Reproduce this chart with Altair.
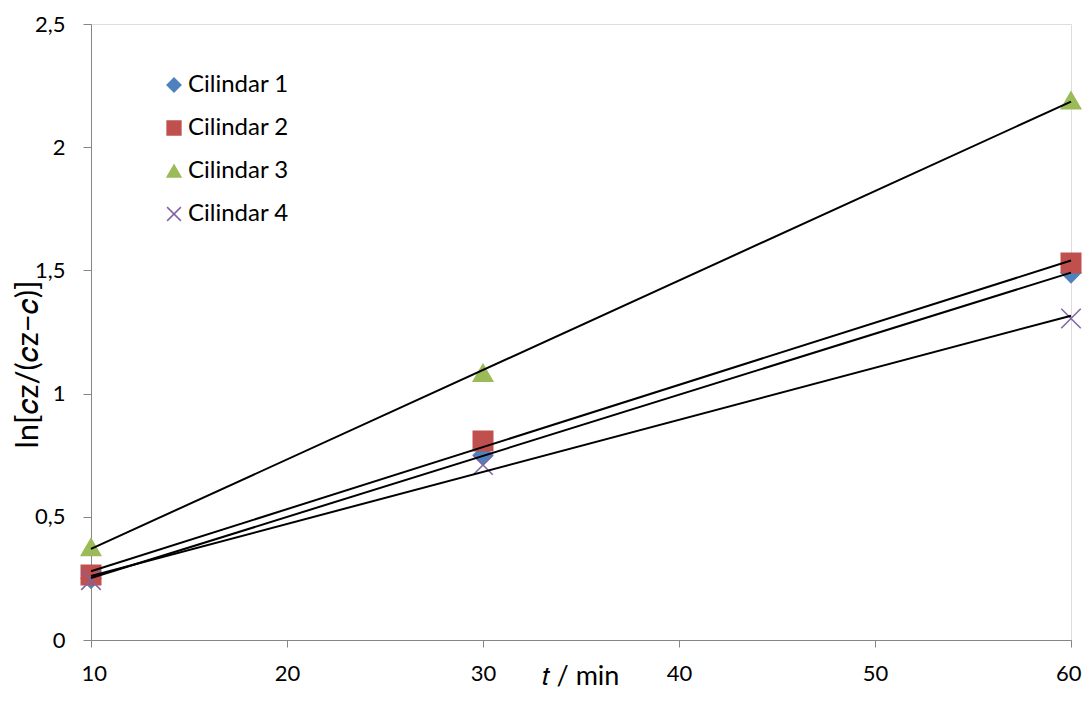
import altair as alt
import pandas as pd

t_values = [10, 30, 60]
cil1 = [0.25, 0.75, 1.49]
cil2 = [0.264, 0.808, 1.53]
cil3 = [0.377, 1.084, 2.19]
cil4 = [0.243, 0.71, 1.305]
series_names = ["Cilindar 1", "Cilindar 2", "Cilindar 3", "Cilindar 4"]
colors = ["#4F81BD", "#C0504D", "#9BBB59", "#8064A2"]
shapes = ["diamond", "square", "triangle-up", "M-1,-1L1,1M-1,1L1,-1"]

rows = []
for name, vals in zip(series_names, [cil1, cil2, cil3, cil4]):
    for t, v in zip(t_values, vals):
        rows.append({"t": t, "y": v, "series": name})
df = pd.DataFrame(rows)

FONT = "Lato"

xs = alt.X("t:Q", scale=alt.Scale(domain=[10, 60], nice=False, zero=False),
           axis=alt.Axis(values=[10, 20, 30, 40, 50, 60], grid=False, title="𝑡 / min",
                         titleFontSize=27, titleFontWeight="normal", titleX=489, titleY=44,
                         titleAlign="center", titleBaseline="alphabetic",
                         labelFontSize=22, labelPadding=16, tickSize=7,
                         labelFlush=True, labelFlushOffset=10,
                         domainColor="#868686", tickColor="#868686", labelColor="#000000",
                         titleColor="#000000", labelFont=FONT, titleFont=FONT))
ys = alt.Y("y:Q", scale=alt.Scale(domain=[0, 2.5], nice=False),
           axis=alt.Axis(values=[0, 0.5, 1, 1.5, 2, 2.5], grid=False,
                         title="ln[𝑐z/(𝑐z−𝑐)]",
                         labelExpr="replace(toString(datum.value), '.', ',')",
                         titleFontSize=31, titleFontWeight="normal", titleAngle=270,
                         titleX=-63, titleY=340, titleAlign="center", titleBaseline="middle",
                         labelFontSize=22, labelPadding=18, tickSize=8, labelFlush=False,
                         domainColor="#868686", tickColor="#868686", labelColor="#000000",
                         titleColor="#000000", labelFont=FONT, titleFont=FONT))

leg = alt.Legend(title=None, orient="none", legendX=71, legendY=49,
                 labelFontSize=24, labelFont=FONT, labelColor="#000000",
                 symbolSize=190, rowPadding=19, labelOffset=2, symbolStrokeWidth=1.5)

color_scale = alt.Scale(domain=series_names, range=colors)
shape_scale = alt.Scale(domain=series_names, range=shapes)

points = alt.Chart(df).mark_point(filled=False, size=380, strokeWidth=1.5, opacity=1).encode(
    x=xs, y=ys,
    color=alt.Color("series:N", scale=color_scale, legend=leg),
    fill=alt.Fill("series:N", scale=color_scale, legend=leg),
    shape=alt.Shape("series:N", scale=shape_scale, legend=leg),
)

lines = alt.Chart(df).transform_regression(
    "t", "y", groupby=["series"], extent=[10, 60]
).mark_line(color="black", strokeWidth=2).encode(
    x=alt.X("t:Q"), y=alt.Y("y:Q"), detail="series:N"
)

chart = alt.layer(points, lines).properties(
    width=980, height=616,
    autosize=alt.AutoSizeParams(type="none"),
    padding={"left": 83, "top": 16, "right": 11, "bottom": 50},
).configure_view(stroke=None).configure(background="white")

chart.save("out.html", embed_options={"renderer": "svg", "actions": False})
